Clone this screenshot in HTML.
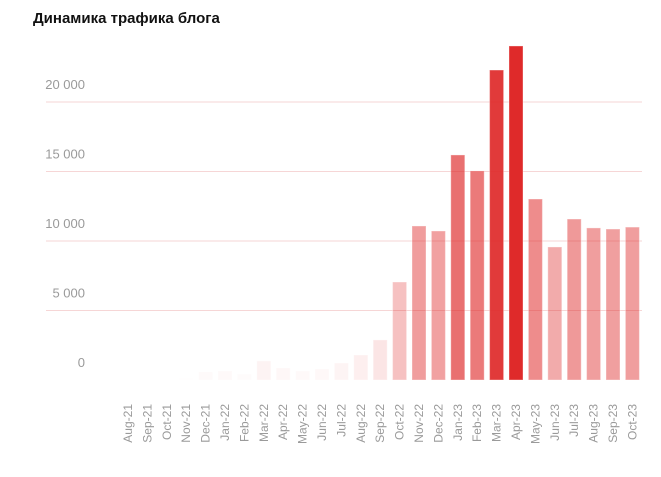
<!DOCTYPE html>
<html><head><meta charset="utf-8">
<style>
html,body{margin:0;padding:0;background:#fff;}
body{width:661px;height:472px;overflow:hidden;font-family:"Liberation Sans","DejaVu Sans",sans-serif;}
</style></head>
<body>
<svg width="661" height="472" id="chart" xmlns="http://www.w3.org/2000/svg">
<text x="33" y="23" font-size="15" font-weight="bold" fill="#111">Динамика трафика блога</text>
<g id="grid"></g>
<g id="bars"></g>
<g id="xlabels"></g>
</svg>
<script>
const categories = ["Aug-21","Sep-21","Oct-21","Nov-21","Dec-21","Jan-22","Feb-22","Mar-22","Apr-22","May-22","Jun-22","Jul-22","Aug-22","Sep-22","Oct-22","Nov-22","Dec-22","Jan-23","Feb-23","Mar-23","Apr-23","May-23","Jun-23","Jul-23","Aug-23","Sep-23","Oct-23"];
const values = [0,0,0,140,580,650,430,1370,860,650,790,1220,1800,2880,7050,11080,10720,16190,15040,22300,24030,13020,9570,11580,10940,10860,11000];
const yTicks = [0,5000,10000,15000,20000];
const yTickLabels = ["0","5 000","10 000","15 000","20 000"];

const NS = "http://www.w3.org/2000/svg";
const baseY = 380, pxPer = 69.5/5000;
const x0 = 121, step = 19.4, bw = 14;
function yScale(v){ return baseY - v*pxPer; }
function xScale(i){ return x0 + i*step; }
const maxV = Math.max(...values);

const grid = document.getElementById('grid');
yTicks.forEach((t,i)=>{
  const y = yScale(t);
  if(t>0){
    const l = document.createElementNS(NS,'line');
    
    
    l.setAttribute('x1',46); l.setAttribute('x2',642);
    l.setAttribute('y1',y); l.setAttribute('y2',y);
    l.setAttribute('stroke','#f6d6d6'); l.setAttribute('stroke-width',1);
    grid.appendChild(l);
  }
  const tx = document.createElementNS(NS,'text');
  
  
  tx.setAttribute('x',85); tx.setAttribute('y',y-13);
  tx.setAttribute('text-anchor','end'); tx.setAttribute('font-size','13');
  tx.setAttribute('fill','#9a9a9a');
  tx.textContent = yTickLabels[i];
  grid.appendChild(tx);
});

const bars = document.getElementById('bars');
const xl = document.getElementById('xlabels');
values.forEach((v,i)=>{
  const x = xScale(i);
  const y = yScale(v);
  const a = v/maxV;
  const r = document.createElementNS(NS,'rect');
  
  
  r.setAttribute('x',x); r.setAttribute('y',y);
  r.setAttribute('width',bw); r.setAttribute('height',Math.max(0,baseY-y));
  r.setAttribute('fill','rgba(222,38,38,'+(a*0.98).toFixed(3)+')');
  r.setAttribute('stroke','rgba(255,255,255,0.35)');
  r.setAttribute('stroke-width','1');
  bars.appendChild(r);
  const t = document.createElementNS(NS,'text');
  
  
  const cx = x + bw/2 + 4;
  t.setAttribute('transform','translate('+cx+',404) rotate(-90)');
  t.setAttribute('text-anchor','end');
  t.setAttribute('font-size','12');
  t.setAttribute('fill','#9a9a9a');
  t.textContent = categories[i];
  xl.appendChild(t);
});
</script>
</body></html>
